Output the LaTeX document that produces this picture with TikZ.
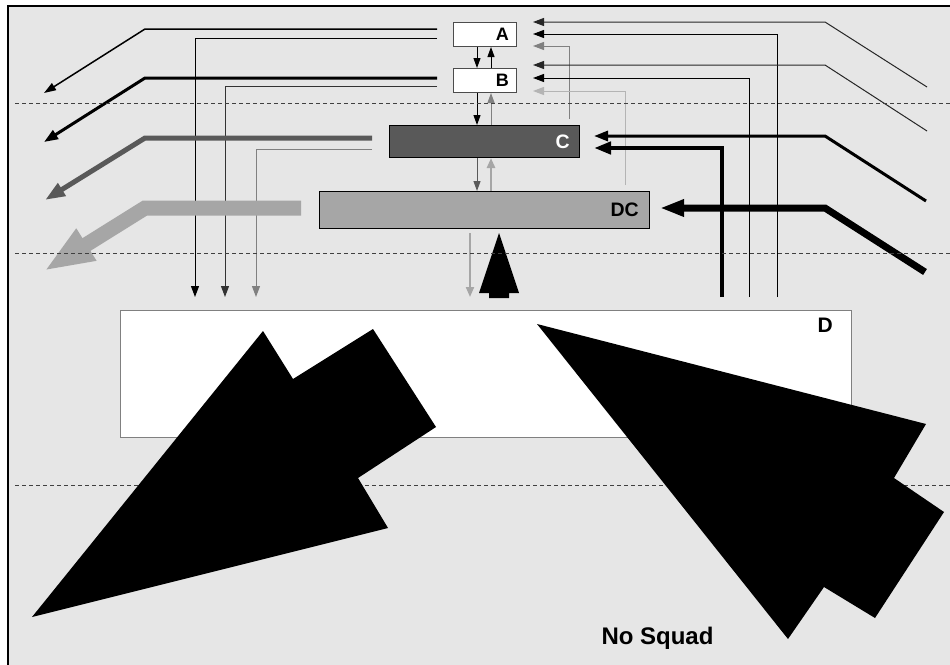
\documentclass[tikz,border=0pt]{standalone}
\usepackage{fontspec}
\setmainfont{Liberation Sans}
\usetikzlibrary{arrows.meta}

\definecolor{bgcol}{HTML}{E6E6E6}
\definecolor{darkfill}{HTML}{595959}
\definecolor{midfill}{HTML}{A6A6A6}
\definecolor{thingray}{HTML}{808080}
\definecolor{palegray}{HTML}{B4B4B4}

\tikzset{
  box/.style={draw, inner sep=0pt, anchor=north west, line width=1pt},
  lbl/.style={font=\bfseries, anchor=east, inner sep=0pt},
  tip/.style={-{Triangle[length=11pt,width=8pt]}},
  smalltip/.style={-{Triangle[length=10pt,width=7pt]}},
  phase/.style={dash pattern=on 4pt off 3pt, line width=0.8pt, black!75},
}

\begin{document}
\begin{tikzpicture}[x=1pt, y=-1pt]
    \useasboundingbox (0,0) rectangle (950,664);
    \clip (0,0) rectangle (950,664);

    % 背景
    \fill[white] (0,0) rectangle (950,664);
    \draw[fill=bgcol, line width=1.5pt] (8,6) rectangle (970,690);

    % 方框
    \node[box, fill=white, draw=black!70, minimum width=63pt, minimum height=24pt] (A) at (453,22) {};
    \node[lbl, font=\bfseries\fontsize{18}{18}\selectfont] at (509,34) {A};
    \node[box, fill=white, draw=black!70, minimum width=63pt, minimum height=24pt] (B) at (453,68) {};
    \node[lbl, font=\bfseries\fontsize{18}{18}\selectfont] at (509,80) {B};
    \node[box, fill=darkfill, minimum width=190pt, minimum height=32pt] (C) at (389,125) {};
    \node[lbl, white, font=\bfseries\fontsize{19.5}{19.5}\selectfont] at (570,141.5) {C};
    \node[box, fill=midfill, minimum width=330pt, minimum height=37pt] (DC) at (319,191) {};
    \node[lbl, font=\bfseries\fontsize{19.5}{19.5}\selectfont] at (639,209.5) {DC};
    \node[box, fill=white, draw=thingray, line width=1.2pt, minimum width=731pt, minimum height=127pt] (D) at (120,310) {};
    \node[lbl, font=\bfseries\fontsize{21}{21}\selectfont] at (833,325.5) {D};

    % 左边：出去的线
    \draw[line width=1.5pt, -{Triangle[length=12pt,width=8pt]}] (437,29) -- (145,29) -- (44,93);
    \draw[line width=1pt, tip] (437,38) -- (195,38) -- (195,297);
    \draw[line width=3pt, -{Triangle[length=14pt,width=10pt]}] (437,78) -- (145,78) -- (44,142);
    \draw[line width=1pt, black!80, tip] (437,86) -- (225,86) -- (225,297);
    \draw[line width=5pt, darkfill, -{Triangle[length=20pt,width=14pt]}] (372,138) -- (145,138) -- (45,200);
    \draw[line width=1pt, thingray, tip] (372,149) -- (256,149) -- (256,297);
    \draw[line width=15pt, midfill, -{Triangle[length=50pt,width=34pt]}] (301,208) -- (145,208) -- (44,271);

    % 右边：进来的线
    \draw[line width=1pt, black!85, tip] (927,87) -- (825,22) -- (533,22);
    \draw[line width=1pt, tip] (777,297) -- (777,34) -- (533,34);
    \draw[line width=1pt, thingray, tip] (569,119) -- (569,46) -- (533,46);
    \draw[line width=1pt, black!85, tip] (927,131) -- (825,65) -- (533,65);
    \draw[line width=1pt, tip] (749,297) -- (749,78) -- (533,78);
    \draw[line width=1pt, palegray, tip] (625,185) -- (625,91) -- (533,91);
    \draw[line width=3pt, -{Triangle[length=14pt,width=10pt]}] (926,201) -- (825,136) -- (594,136);
    \draw[line width=4.5pt, -{Triangle[length=17pt,width=12pt]}] (722,297) -- (722,148) -- (594,148);
    \draw[line width=7pt, -{Triangle[length=24pt,width=16pt]}] (925,272) -- (825,208) -- (660,208);

    % 中间：上下箭头
    \draw[line width=1pt, smalltip] (A.south -| 477,0) -- (B.north -| 477,0);
    \draw[line width=1pt, smalltip] (B.north -| 491,0) -- (A.south -| 491,0);
    \draw[line width=1pt, smalltip] (B.south -| 477,0) -- (C.north -| 477,0);
    \draw[line width=1pt, thingray, smalltip] (C.north -| 491,0) -- (B.south -| 491,0);
    \draw[line width=1pt, darkfill, smalltip] (C.south -| 477,0) -- (DC.north -| 477,0);
    \draw[line width=2.5pt, midfill, -{Triangle[length=10pt,width=8pt]}] (DC.north -| 491,0) -- (C.south -| 491,0);
    \draw[line width=2pt, midfill, -{Triangle[length=10pt,width=8pt]}] (470,233) -- (470,297);
    \fill (489,298) -- (489,293) -- (479,293) -- (499,233) -- (519,293) -- (509,293) -- (509,298) -- cycle;

    % 分隔虚线
    \draw[phase] (15,103) -- (950,103);
    \draw[phase] (15,253) -- (950,253);
    \draw[phase] (15,485) -- (950,485);

    % 大箭头
    \fill (32,617) -- (263,331) -- (293,379) -- (373,329) -- (436,427) -- (358,478) -- (388,528) -- cycle;
    \fill (537,324) -- (926,424) -- (894,478) -- (944,512) -- (875,618) -- (824,587) -- (788,639) -- cycle;

    \node[font=\bfseries\fontsize{24}{24}\selectfont] (label) at (657.5,638) {No Squad};
\end{tikzpicture}
\end{document}
